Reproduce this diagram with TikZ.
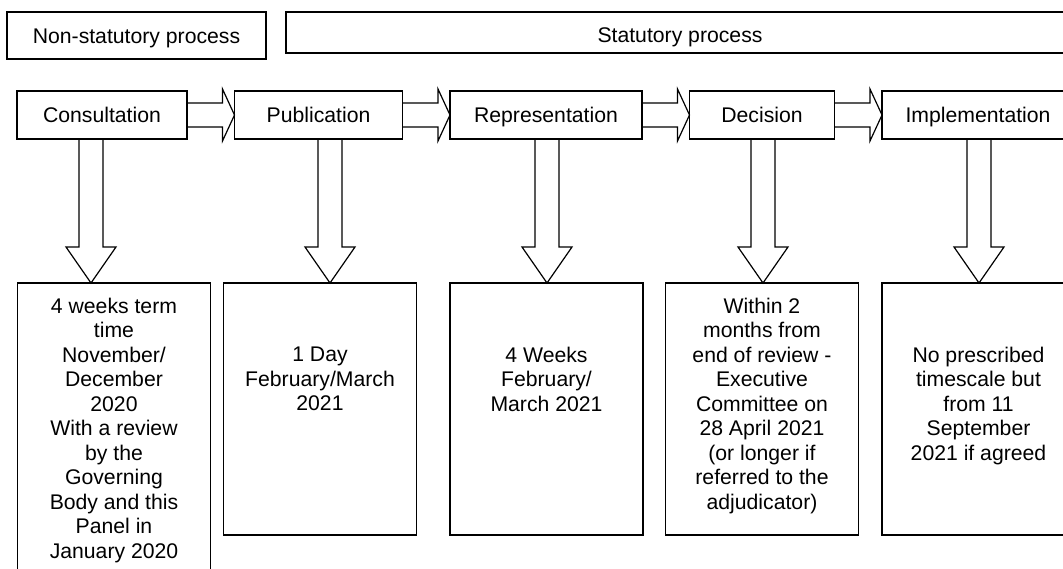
\documentclass[tikz,border=0pt]{standalone}
\usepackage{fontspec}
\setmainfont{Liberation Sans}
\usetikzlibrary{positioning,calc}
\newcommand{\timetext}[3]{\parbox[b][#1][t]{180pt}{\centering\vspace*{#2}#3}}

\begin{document}
\begin{tikzpicture}[x=1pt,y=1pt,line width=1.2pt,node distance=47.5pt,
  every node/.style={font=\fontsize{21.2}{24.5}\selectfont,align=center,outer sep=0pt},
  stage/.style={draw,minimum height=48pt,inner sep=0pt,text height=15.2pt,text depth=0pt},
  timebox/.style={draw,anchor=north,minimum width=193pt,inner sep=0pt},
  blk/.style={line join=miter}]
\useasboundingbox (0,0) rectangle (1063,-569);
\clip (0,0) rectangle (1063,-569);
\node[stage,minimum width=259pt,minimum height=47pt] (nonstat) at (136.5,-35.5) {Non-statutory process};
\node[stage,minimum width=788pt,minimum height=41pt,text height=20.2pt] (stat) at (680,-32.5) {Statutory process};
\node[stage,minimum width=170pt] (cons) at (102,-115) {Consultation};
\node[stage,minimum width=168pt,right=of cons] (pub) {Publication};
\node[stage,minimum width=192pt,right=of pub] (rep) {Representation};
\node[stage,minimum width=145pt,right=of rep] (dec) {Decision};
\node[stage,minimum width=192pt,right=of dec] (imp) {Implementation};
\node[timebox] (dcons) at (114,-283) {\timetext{300pt}{15pt}{4 weeks term\\time\\November/\\December\\2020\\With a review\\by the\\Governing\\Body and this\\Panel in\\January 2020}};
\node[timebox] (dpub) at (320,-283) {\timetext{252pt}{64pt}{1 Day\\February/March\\2021}};
\node[timebox] (drep) at (546.5,-283) {\timetext{252pt}{64pt}{4 Weeks\\February/\\March 2021}};
\node[timebox] (ddec) at (762,-283) {\timetext{252pt}{15pt}{Within 2\\months from\\end of review -\\Executive\\Committee on\\28 April 2021\\(or longer if\\referred to the\\adjudicator)}};
\node[timebox] (dimp) at (978.5,-283) {\timetext{252pt}{64pt}{No prescribed\\timescale but\\from 11\\September\\2021 if agreed}};
\foreach \a/\b in {cons/pub,pub/rep,rep/dec,dec/imp}
  \draw[blk] ($(\a.east)+(0,12)$) -- ($(\b.west)+(-12,12)$) -- ($(\b.west)+(-12,26)$) -- (\b.west) -- ($(\b.west)+(-12,-26)$) -- ($(\b.west)+(-12,-12)$) -- ($(\a.east)+(0,-12)$);
\foreach \a/\b/\x in {cons/dcons/91,pub/dpub/330,rep/drep/547,dec/ddec/763,imp/dimp/979}{
  \coordinate (tip) at (\x,0 |- \b.north);
  \draw[blk] (\x-12,0 |- \a.south) -- ($(tip)+(-12,36)$) -- ($(tip)+(-25,36)$) -- (tip) -- ($(tip)+(25,36)$) -- ($(tip)+(12,36)$) -- (\x+12,0 |- \a.south);
}
\end{tikzpicture}
\end{document}
